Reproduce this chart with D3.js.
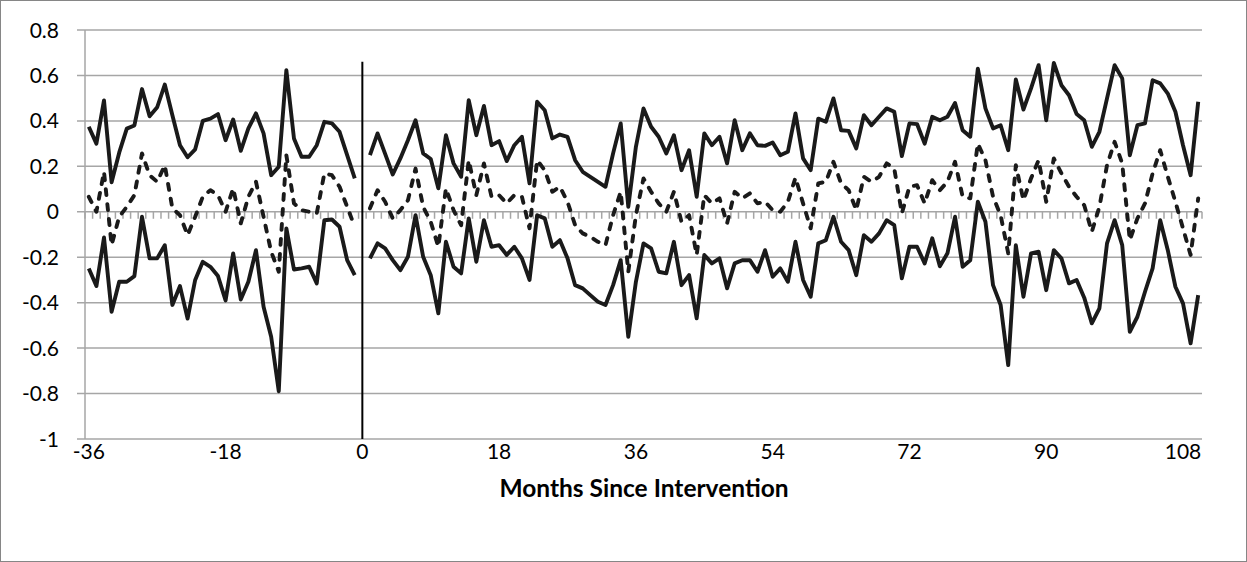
<!DOCTYPE html>
<html lang="en">
<head>
    <meta charset="UTF-8">
    <title>Months Since Intervention</title>
    <script src="https://d3js.org/d3.v7.min.js"></script>
    <style>
        body { margin: 0; background: #fff; }
        text { font-family: Lato, "Open Sans", sans-serif; fill: #000; }
        .grid { stroke: #a6a6a6; stroke-width: 1.5px; }
        .series { fill: none; stroke: #1a1a1a; stroke-width: 3.9px; stroke-linejoin: round; }
        .dashed { stroke-dasharray: 6 9; stroke-linecap: round; }
    </style>
</head>
<body>
<script>
// months before the intervention: -36 .. -1, after: 1 .. 110 (no value at 0)
const preStart = -36;
const postStart = 1;

const upperPre = [0.374, 0.30, 0.49, 0.13, 0.26, 0.366, 0.38, 0.54, 0.42, 0.46,
    0.56, 0.425, 0.293, 0.24, 0.275, 0.40, 0.41, 0.43, 0.315, 0.406,
    0.268, 0.367, 0.433, 0.345, 0.161, 0.198, 0.623, 0.323, 0.242, 0.242,
    0.293, 0.396, 0.389, 0.352, 0.249, 0.147];
const middlePre = [0.066, 0.0, 0.176, -0.147, -0.022, 0.022, 0.073, 0.257, 0.161, 0.132,
    0.205, 0.015, -0.015, -0.103, -0.022, 0.066, 0.095, 0.073, 0.0, 0.103,
    -0.051, 0.066, 0.132, -0.022, -0.176, -0.264, 0.249, 0.037, 0.007, 0.0,
    -0.007, 0.169, 0.161, 0.11, 0.022, -0.066];
const lowerPre = [-0.25, -0.327, -0.113, -0.44, -0.308, -0.308, -0.283, -0.022, -0.205, -0.205,
    -0.147, -0.41, -0.327, -0.47, -0.30, -0.22, -0.242, -0.283, -0.39, -0.183,
    -0.386, -0.308, -0.169, -0.418, -0.55, -0.79, -0.073, -0.254, -0.249, -0.242,
    -0.315, -0.037, -0.034, -0.066, -0.213, -0.279];

const upperPost = [0.249, 0.345, 0.255, 0.164, 0.235, 0.315, 0.403, 0.257, 0.232, 0.103,
    0.337, 0.213, 0.154, 0.491, 0.337, 0.466, 0.293, 0.311, 0.223, 0.293,
    0.33, 0.125, 0.484, 0.447, 0.323, 0.34, 0.33, 0.227, 0.176, 0.154,
    0.132, 0.11, 0.257, 0.389, 0.022, 0.286, 0.455, 0.374, 0.33, 0.257,
    0.337, 0.183, 0.271, 0.066, 0.345, 0.293, 0.33, 0.213, 0.403, 0.271,
    0.345, 0.293, 0.29, 0.305, 0.249, 0.264, 0.433, 0.235, 0.183, 0.41,
    0.396, 0.499, 0.359, 0.356, 0.279, 0.425, 0.381, 0.418, 0.455, 0.44,
    0.245, 0.389, 0.386, 0.30, 0.418, 0.403, 0.418, 0.479, 0.359, 0.33,
    0.63, 0.455, 0.367, 0.381, 0.271, 0.582, 0.45, 0.543, 0.645, 0.403,
    0.655, 0.557, 0.513, 0.43, 0.403, 0.286, 0.352, 0.499, 0.645, 0.587,
    0.249, 0.381, 0.389, 0.579, 0.565, 0.52, 0.44, 0.293, 0.161, 0.484];
const middlePost = [0.015, 0.095, 0.044, -0.029, 0.007, 0.051, 0.19, 0.022, -0.044, -0.154,
    0.103, 0.007, -0.059, 0.227, 0.073, 0.213, 0.066, 0.073, 0.037, 0.073,
    0.066, -0.073, 0.227, 0.183, 0.088, 0.11, 0.044, -0.059, -0.095, -0.11,
    -0.132, -0.147, -0.015, 0.088, -0.264, -0.015, 0.147, 0.088, 0.037, 0.0,
    0.088, -0.044, -0.015, -0.19, 0.073, 0.037, 0.059, -0.051, 0.088, 0.059,
    0.081, 0.037, 0.044, 0.007, 0.0, 0.044, 0.15, 0.037, -0.073, 0.125,
    0.132, 0.22, 0.125, 0.095, 0.007, 0.154, 0.132, 0.154, 0.213, 0.19,
    -0.007, 0.11, 0.117, 0.037, 0.139, 0.095, 0.132, 0.22, 0.066, 0.059,
    0.30, 0.227, 0.066, -0.015, -0.183, 0.205, 0.051, 0.147, 0.227, 0.044,
    0.235, 0.169, 0.11, 0.066, 0.029, -0.088, 0.022, 0.205, 0.308, 0.213,
    -0.125, -0.029, 0.037, 0.169, 0.271, 0.154, 0.044, -0.073, -0.19, 0.059];
const lowerPost = [-0.205, -0.139, -0.161, -0.213, -0.257, -0.198, -0.015, -0.198, -0.279, -0.447,
    -0.132, -0.242, -0.271, -0.029, -0.22, -0.037, -0.154, -0.147, -0.19, -0.154,
    -0.205, -0.30, -0.015, -0.029, -0.154, -0.125, -0.205, -0.323, -0.337, -0.367,
    -0.396, -0.41, -0.323, -0.213, -0.55, -0.308, -0.139, -0.161, -0.264, -0.271,
    -0.132, -0.323, -0.279, -0.469, -0.19, -0.227, -0.205, -0.337, -0.227, -0.213,
    -0.213, -0.264, -0.169, -0.286, -0.249, -0.308, -0.132, -0.30, -0.374, -0.139,
    -0.125, -0.022, -0.132, -0.169, -0.279, -0.103, -0.132, -0.095, -0.037, -0.059,
    -0.293, -0.154, -0.154, -0.227, -0.117, -0.24, -0.183, -0.022, -0.242, -0.213,
    0.044, -0.044, -0.323, -0.41, -0.675, -0.147, -0.374, -0.183, -0.176, -0.345,
    -0.169, -0.205, -0.315, -0.30, -0.378, -0.491, -0.425, -0.139, -0.037, -0.147,
    -0.528, -0.462, -0.352, -0.249, -0.037, -0.169, -0.33, -0.403, -0.579, -0.367];

const xTicks = [-36, -18, 0, 18, 36, 54, 72, 90, 108];
const yTicks = [0.8, 0.6, 0.4, 0.2, 0, -0.2, -0.4, -0.6, -0.8, -1];
const xTitle = "Months Since Intervention";
const interventionTop = 0.66; // top end of the vertical marker at month 0

const width = 1247, height = 562;
const svg = d3.select("body").append("svg")
    .attr("width", width)
    .attr("height", height);

// chart frame
svg.append("rect")
    .attr("x", 0.5).attr("y", 0.5)
    .attr("width", width - 1).attr("height", height - 1)
    .attr("fill", "#fff").attr("stroke", "#868686");

// category axis: 147 months, points in the middle of each slot
const x = d3.scaleLinear().domain([-36.5, 110.5]).range([85, 1202]);
const y = d3.scaleLinear().domain([-1, 0.8]).range([439, 30]);

// horizontal gridlines (with outside tick marks on the value axis)
svg.append("g").selectAll("line")
    .data(yTicks)
    .enter().append("line")
    .attr("class", "grid")
    .attr("x1", x.range()[0] - 8)
    .attr("x2", x.range()[1])
    .attr("y1", d => y(d))
    .attr("y2", d => y(d));

// minor tick marks on the zero line, one per category boundary
svg.append("g").selectAll("line")
    .data(d3.range(-36.5, 111, 1))
    .enter().append("line")
    .attr("class", "grid")
    .attr("x1", d => x(d)).attr("x2", d => x(d))
    .attr("y1", y(0)).attr("y2", y(0) + 7);

// value axis line
svg.append("line")
    .attr("class", "grid")
    .attr("x1", x.range()[0]).attr("x2", x.range()[0])
    .attr("y1", y(0.8)).attr("y2", y(-1));

// y labels
svg.append("g").selectAll("text")
    .data(yTicks)
    .enter().append("text")
    .attr("x", 59)
    .attr("y", d => y(d))
    .attr("dy", "0.36em")
    .attr("text-anchor", "end")
    .style("font-size", "21px")
    .text(d => d3.format("~g")(d).replace("−", "-"));

// x labels
svg.append("g").selectAll("text")
    .data(xTicks)
    .enter().append("text")
    .attr("x", d => x(d))
    .attr("y", 459)
    .attr("text-anchor", "middle")
    .style("font-size", "21px")
    .text(d => String(d));

svg.append("text")
    .attr("x", 644)
    .attr("y", 497)
    .attr("text-anchor", "middle")
    .style("font-size", "24.5px")
    .style("font-weight", "bold")
    .text(xTitle);

// intervention marker
svg.append("line")
    .attr("x1", x(0)).attr("x2", x(0))
    .attr("y1", y(interventionTop)).attr("y2", y(-1))
    .attr("stroke", "#000").attr("stroke-width", 2);

const line = d3.line()
    .x(d => x(d.m))
    .y(d => y(d.v));

const toPoints = (values, start) => values.map((v, i) => ({ m: start + i, v: v }));

const series = [
    { values: upperPre, start: preStart, dashed: false },
    { values: lowerPre, start: preStart, dashed: false },
    { values: middlePre, start: preStart, dashed: true },
    { values: upperPost, start: postStart, dashed: false },
    { values: lowerPost, start: postStart, dashed: false },
    { values: middlePost, start: postStart, dashed: true }
];

svg.append("g").selectAll("path")
    .data(series)
    .enter().append("path")
    .attr("class", d => d.dashed ? "series dashed" : "series")
    .attr("d", d => line(toPoints(d.values, d.start)));
</script>
</body>
</html>
